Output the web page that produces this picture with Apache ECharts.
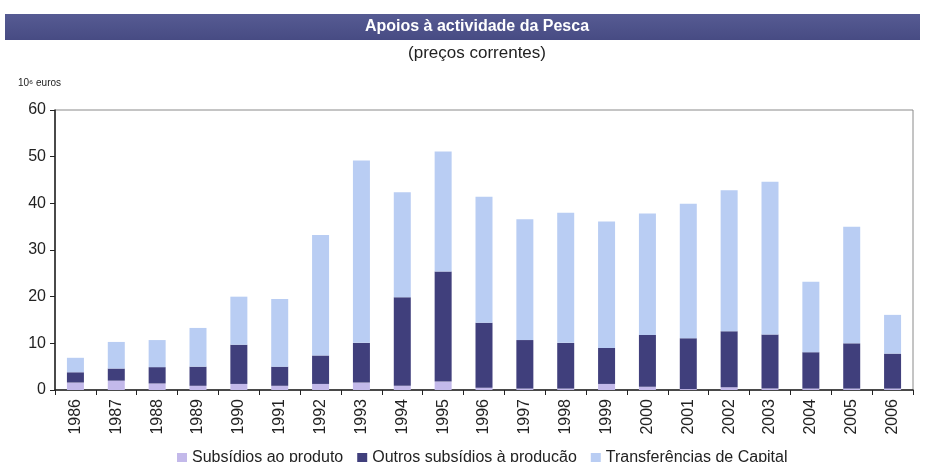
<!DOCTYPE html>
<html>
<head>
	<meta charset="utf-8"/>
	<title>Apoios à actividade da Pesca</title>
	<style type="text/css">
		html, body {
			margin: 0;
			padding: 0;
			background: #fff;
		}
		#chart {
			width: 927px;
			height: 462px;
		}
	</style>
</head>
<body>
	<div id="chart"></div>

	<script src="https://cdn.jsdelivr.net/npm/echarts@6/dist/echarts.min.js"></script>
	<script type="text/javascript">

		// data (10^6 euros)
		var years = ['1986','1987','1988','1989','1990','1991','1992','1993','1994','1995','1996',
		             '1997','1998','1999','2000','2001','2002','2003','2004','2005','2006'];
		var subsidiosProduto = [1.6, 2.0, 1.4, 0.9, 1.3, 0.9, 1.3, 1.6, 0.9, 1.8, 0.5,
		                        0.3, 0.3, 1.3, 0.7, 0.2, 0.6, 0.3, 0.3, 0.3, 0.3];
		var outrosSubsidios = [2.2, 2.6, 3.5, 4.1, 8.4, 4.1, 6.1, 8.5, 19.0, 23.6, 13.9,
		                       10.4, 9.8, 7.7, 11.1, 10.9, 12.0, 11.6, 7.8, 9.7, 7.5];
		var transferencias = [3.1, 5.7, 5.8, 8.3, 10.3, 14.5, 25.8, 39.1, 22.5, 25.7, 27.0,
		                      25.9, 27.9, 27.1, 26.0, 28.8, 30.2, 32.7, 15.1, 25.0, 8.3];
		var seriesNames = ['Subsídios ao produto', 'Outros subsídios à produção', 'Transferências de Capital'];

		var chart = echarts.init(document.getElementById('chart'));

		var font = 'Liberation Sans, Arial, sans-serif';

		option = {
			animation: false,
			color: ['#c3b9ea', '#403f7c', '#b9cdf3'],
			textStyle: { fontFamily: font },
			graphic: [
				{
					type: 'rect',
					shape: { x: 5, y: 14, width: 915, height: 26 },
					style: {
						fill: new echarts.graphic.LinearGradient(0, 0, 0, 1, [
							{ offset: 0, color: '#565b93' },
							{ offset: 1, color: '#474b83' }
						])
					}
				},
				{
					type: 'text',
					x: 477, y: 27,
					style: {
						text: 'Apoios à actividade da Pesca',
						fill: '#fff',
						font: 'bold 16px ' + font,
						textAlign: 'center',
						textVerticalAlign: 'middle'
					}
				},
				{
					type: 'text',
					x: 477, y: 53,
					style: {
						text: '(preços correntes)',
						fill: '#222',
						font: '17px ' + font,
						textAlign: 'center',
						textVerticalAlign: 'middle'
					}
				},
				{
					type: 'text',
					x: 18, y: 83,
					style: {
						text: '10⁶ euros',
						fill: '#222',
						font: '10px ' + font,
						textVerticalAlign: 'middle'
					}
				}
			],
			legend: {
				data: seriesNames,
				bottom: -9,
				left: 172,
				itemWidth: 10,
				itemHeight: 10,
				itemGap: 14,
				icon: 'rect',
				textStyle: { color: '#222', fontSize: 16, fontFamily: font }
			},
			grid: {
				left: 55,
				right: 14,
				top: 110,
				bottom: 72,
				show: true,
				borderColor: '#8a8a8a',
				borderWidth: 1
			},
			xAxis: {
				type: 'category',
				data: years,
				axisLine: { lineStyle: { color: '#222', width: 1.5 } },
				axisTick: { show: true, length: 5, inside: false, lineStyle: { color: '#222' } },
				axisLabel: {
					rotate: 90,
					color: '#222',
					fontSize: 16,
					margin: 9,
					interval: 0
				}
			},
			yAxis: {
				type: 'value',
				min: 0,
				max: 60,
				interval: 10,
				splitLine: { show: false },
				axisLine: { show: true, lineStyle: { color: '#222', width: 1.5 } },
				axisTick: { show: true, length: 5, lineStyle: { color: '#222' } },
				axisLabel: { color: '#222', fontSize: 16, margin: 9 }
			},
			series: [
				{
					name: seriesNames[0],
					type: 'bar',
					stack: 'total',
					barWidth: 17,
					data: subsidiosProduto
				},
				{
					name: seriesNames[1],
					type: 'bar',
					stack: 'total',
					barWidth: 17,
					data: outrosSubsidios
				},
				{
					name: seriesNames[2],
					type: 'bar',
					stack: 'total',
					barWidth: 17,
					data: transferencias
				}
			]
		};

		chart.setOption(option);

	</script>
</body>
</html>
